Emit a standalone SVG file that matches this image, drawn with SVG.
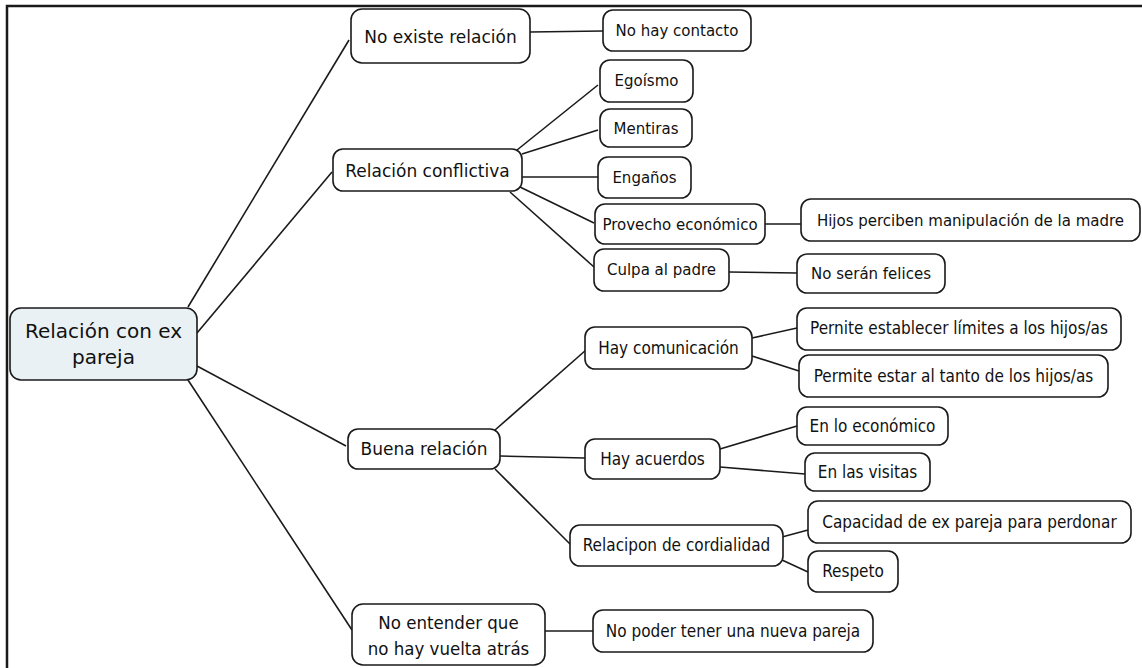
<svg xmlns="http://www.w3.org/2000/svg" width="1142" height="668" viewBox="0 0 1142 668">
<style>
.b{fill:#fff;stroke:#1a1a1a;stroke-width:1.6}
.r{fill:#e9f1f4;stroke:#1a1a1a;stroke-width:1.6}
.t{font-family:"DejaVu Sans",Verdana,sans-serif;fill:#111;text-anchor:middle}
.c{font-family:"DejaVu Sans Condensed","DejaVu Sans",sans-serif;fill:#111;text-anchor:middle;font-size:17px}
.c.big{font-size:18.5px}
#connectors line{stroke:#1a1a1a;stroke-width:1.6}
</style>
<rect x="0" y="0" width="1142" height="668" fill="#fff"/>
<path d="M7,668 V6 H1142" fill="none" stroke="#1a1a1a" stroke-width="2.5"/>
<g id="connectors">
<line x1="188" y1="307" x2="349" y2="40"/>
<line x1="197" y1="333" x2="332" y2="172"/>
<line x1="197" y1="366" x2="346" y2="446"/>
<line x1="188" y1="380" x2="352" y2="630"/>
<line x1="530" y1="32" x2="603" y2="31"/>
<line x1="517" y1="150" x2="598" y2="85"/>
<line x1="522" y1="154" x2="598" y2="130"/>
<line x1="522" y1="177" x2="598" y2="177"/>
<line x1="520" y1="187" x2="594" y2="223"/>
<line x1="510" y1="192" x2="594" y2="267"/>
<line x1="765" y1="224" x2="801" y2="224"/>
<line x1="729" y1="272" x2="797" y2="273"/>
<line x1="495" y1="430" x2="586" y2="350"/>
<line x1="500" y1="456" x2="585" y2="458"/>
<line x1="495" y1="469" x2="571" y2="545"/>
<line x1="752" y1="338" x2="797" y2="328"/>
<line x1="752" y1="356" x2="799" y2="371"/>
<line x1="720" y1="449" x2="797" y2="426"/>
<line x1="720" y1="467" x2="805" y2="474"/>
<line x1="782" y1="537" x2="808" y2="530"/>
<line x1="782" y1="560" x2="808" y2="572"/>
<line x1="545" y1="631" x2="593" y2="631"/>
</g>
<g id="root"><rect class="r" x="10" y="308" width="187" height="72" rx="11"/><text class="t" x="103.5" y="338" font-size="20">Relación con ex</text><text class="t" x="103.5" y="364" font-size="20">pareja</text></g>
<g id="n1"><rect class="b" x="351" y="9" width="179" height="54" rx="11"/><text class="t" x="440.5" y="43" font-size="17">No existe relación</text></g>
<g id="n1a"><rect class="b" x="603" y="10" width="148" height="41" rx="10"/><text class="t" x="677" y="36" font-size="15">No hay contacto</text></g>
<g id="n2"><rect class="b" x="333" y="149" width="189" height="42" rx="10"/><text class="t" x="427.5" y="177" font-size="17">Relación conflictiva</text></g>
<g id="n2a"><rect class="b" x="600" y="60" width="93" height="42" rx="10"/><text class="t" x="646.5" y="86" font-size="15">Egoísmo</text></g>
<g id="n2b"><rect class="b" x="600" y="109" width="92" height="38" rx="10"/><text class="t" x="646" y="134" font-size="15">Mentiras</text></g>
<g id="n2c"><rect class="b" x="598" y="157" width="93" height="41" rx="10"/><text class="t" x="644.5" y="183" font-size="15">Engaños</text></g>
<g id="n2d"><rect class="b" x="595" y="204" width="170" height="40" rx="10"/><text class="t" x="680" y="230" font-size="15">Provecho económico</text></g>
<g id="n2d1"><rect class="b" x="801" y="199" width="339" height="42" rx="10"/><text class="t" x="970.5" y="226" font-size="15">Hijos perciben manipulación de la madre</text></g>
<g id="n2e"><rect class="b" x="594" y="249" width="135" height="42" rx="10"/><text class="t" x="661.5" y="275" font-size="15">Culpa al padre</text></g>
<g id="n2e1"><rect class="b" x="797" y="254" width="148" height="39" rx="10"/><text class="t" x="871" y="279" font-size="15">No serán felices</text></g>
<g id="n3"><rect class="b" x="348" y="429" width="152" height="40" rx="10"/><text class="t" x="424" y="455" font-size="17">Buena relación</text></g>
<g id="n3a"><rect class="b" x="585" y="327" width="167" height="42" rx="10"/><text class="c" x="668.5" y="354">Hay comunicación</text></g>
<g id="n3a1"><rect class="b" x="797" y="308" width="324" height="42" rx="10"/><text class="c" x="959" y="334">Pernite establecer límites a los hijos/as</text></g>
<g id="n3a2"><rect class="b" x="799" y="355" width="309" height="42" rx="10"/><text class="c" x="953.5" y="382">Permite estar al tanto de los hijos/as</text></g>
<g id="n3b"><rect class="b" x="585" y="439" width="135" height="40" rx="10"/><text class="c" x="652.5" y="465">Hay acuerdos</text></g>
<g id="n3b1"><rect class="b" x="797" y="407" width="151" height="38" rx="10"/><text class="c" x="872.5" y="432">En lo económico</text></g>
<g id="n3b2"><rect class="b" x="805" y="453" width="125" height="38" rx="10"/><text class="c" x="867.5" y="478">En las visitas</text></g>
<g id="n3c"><rect class="b" x="570" y="525" width="213" height="41" rx="10"/><text class="c" x="676.5" y="551">Relacipon de cordialidad</text></g>
<g id="n3c1"><rect class="b" x="808" y="501" width="323" height="42" rx="10"/><text class="c" x="969.5" y="528">Capacidad de ex pareja para perdonar</text></g>
<g id="n3c2"><rect class="b" x="808" y="551" width="90" height="41" rx="10"/><text class="c" x="853" y="577">Respeto</text></g>
<g id="n4"><rect class="b" x="352" y="604" width="193" height="61" rx="11"/><text class="c big" x="448.5" y="629">No entender que</text><text class="c big" x="448.5" y="655">no hay vuelta atrás</text></g>
<g id="n4a"><rect class="b" x="593" y="610" width="280" height="42" rx="10"/><text class="c" x="733" y="637">No poder tener una nueva pareja</text></g>
</svg>
